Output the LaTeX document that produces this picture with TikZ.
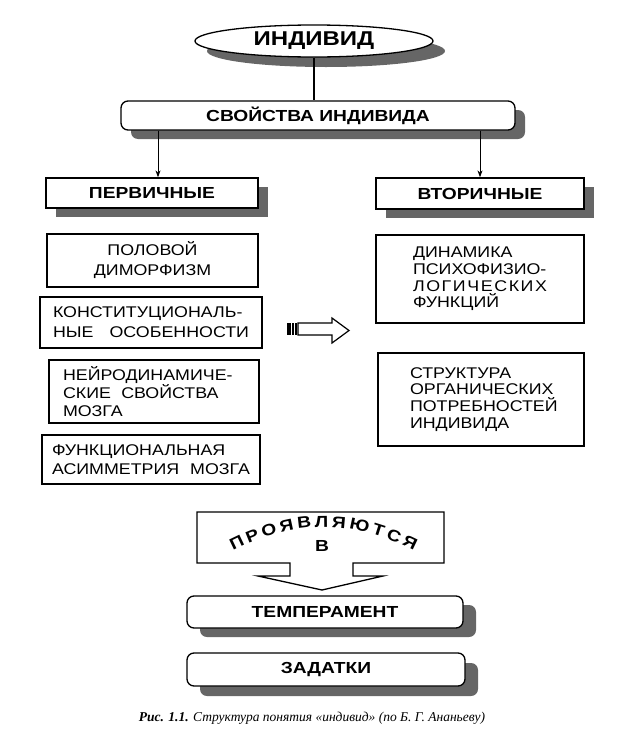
\documentclass[tikz,border=0pt]{standalone}
\usepackage{fontspec}
\setmainfont{Liberation Sans}
\newfontfamily\headfont[FakeStretch=1.2]{Liberation Sans}
\newfontfamily\bodyfont[FakeStretch=1.15]{Liberation Sans}
\newfontfamily\capfont{Liberation Serif}
\usetikzlibrary{shapes.geometric,shadows,arrows.meta,decorations.text}

\newcommand\arcfont{\headfont\bfseries\fontsize{16}{16}\selectfont}

\tikzset{
    box/.style = {draw, line width=1.3pt, fill=white, inner sep=0pt},
    shadowed/.style = {general shadow={shadow xshift=10pt, shadow yshift=-9pt, fill=black!60}},
    headtext/.style = {font=\headfont\bfseries\fontsize{16}{18}\selectfont},
    bodytext/.style = {font=\bodyfont\fontsize{15.5}{20}\selectfont},
    arr/.style = {-{Stealth[length=7pt, width=5pt]}, line width=1pt}
}

\begin{document}
\begin{tikzpicture}[x=1pt, y=-1pt]

        \useasboundingbox (0,0) rectangle (623,747);

        % Top: the individual and its properties.
        \node[box, ellipse, general shadow={shadow xshift=12pt, shadow yshift=-10pt, fill=black!60},
              minimum width=238pt, minimum height=32pt,
              font=\headfont\bfseries\fontsize{20}{22}\selectfont] (indiv) at (314,41) {ИНДИВИД};
        \node[box, rounded corners=7pt, shadowed, headtext,
              minimum width=394pt, minimum height=29pt] (props) at (318,115.5) {СВОЙСТВА ИНДИВИДА};
        \draw[line width=1.2pt] (indiv.south) -- (indiv.south |- props.north);

        % Two groups of properties.
        \node[box, shadowed, headtext, minimum width=212pt, minimum height=30pt] (prim) at (152,193) {ПЕРВИЧНЫЕ};
        \node[box, shadowed, headtext, minimum width=208pt, minimum height=31pt] (sec) at (480,193.5) {ВТОРИЧНЫЕ};
        \draw[arr] ([xshift=6pt]prim.north |- props.south) -- ([xshift=6pt]prim.north);
        \draw[arr] (sec.north |- props.south) -- (sec.north);

        % Primary properties.
        \begin{scope}[every node/.style = {box, bodytext}]
            \node[minimum width=211pt, minimum height=53pt, align=center] (sex) at (152.5,260.5)
                {ПОЛОВОЙ\\ДИМОРФИЗМ};
            \node[minimum width=222pt, minimum height=51pt, text width=196pt, align=left] (const) at (151,322.5)
                {КОНСТИТУЦИОНАЛЬ-\\НЫЕ\hfill ОСОБЕННОСТИ};
            \node[minimum width=210pt, minimum height=63pt, text width=182pt, align=left,
                  font=\bodyfont\fontsize{15.5}{18}\selectfont] (neuro) at (154,391.5)
                {НЕЙРОДИНАМИЧЕ-\\СКИЕ\ \ СВОЙСТВА\\МОЗГА};
            \node[minimum width=218pt, minimum height=49pt, text width=198pt, align=left,
                  font=\bodyfont\fontsize{15.5}{18.5}\selectfont] (asym) at (151,459.5)
                {ФУНКЦИОНАЛЬНАЯ\\АСИММЕТРИЯ\hfill МОЗГА};
        \end{scope}

        % Secondary properties.
        \begin{scope}[every node/.style = {box, font=\bodyfont\fontsize{15.5}{16.8}\selectfont, align=left}]
            \node[minimum width=208pt, minimum height=88pt, text width=134pt] (dyn) at (480,279)
                {ДИНАМИКА\\ПСИХОФИЗИО-\\Л\hfill О\hfill Г\hfill И\hfill Ч\hfill Е\hfill С\hfill К\hfill И\hfill Х\\ФУНКЦИЙ};
            \node[minimum width=206pt, minimum height=93pt, text width=142pt] (needs) at (481,399.5)
                {СТРУКТУРА\\ОРГАНИЧЕСКИХ\\ПОТРЕБНОСТЕЙ\\ИНДИВИДА};
        \end{scope}

        % Hollow arrow between the columns.
        \draw[line width=1.2pt, fill=white] (298,323) -- (332,323) -- (332,318) -- (349,330.5)
            -- (332,343) -- (332,335) -- (298,335) -- cycle;
        \fill (287,323) rectangle (290.5,335);
        \fill (292,323) rectangle (293.5,335);
        \fill (295,323) rectangle (296.5,335);

        % Block arrow with the arched words.
        \draw[line width=1.3pt, fill=white] (197,512) -- (444,512) -- (444,563) -- (353,563) -- (353,576)
            -- (383,576) -- (322,590) -- (258,576) -- (290,576) -- (290,563) -- (197,563) -- cycle;
        \path[decorate, decoration={text along path, text={|\arcfont|ПРОЯВЛЯЮТСЯ}, text align=fit to path}]
            (233,551) to[bend left=27] (414,551);
        \node[font=\arcfont] (in) at (322,546) {В};

        % Where the properties show up.
        \node[box, rounded corners=7pt, general shadow={shadow xshift=13pt, shadow yshift=-9pt, fill=black!60},
              headtext, minimum width=276pt, minimum height=32pt] (temper) at (325,612) {ТЕМПЕРАМЕНТ};
        \node[box, rounded corners=7pt, general shadow={shadow xshift=13pt, shadow yshift=-10pt, fill=black!60},
              headtext, minimum width=278pt, minimum height=33pt] (makings) at (326,669.5) {ЗАДАТКИ};

        % Caption.
        \node[font=\capfont\itshape\fontsize{13.5}{15}\selectfont] (caption) at (312,718)
            {\textbf{Рис. 1.1.} Структура понятия «индивид» (по Б. Г. Ананьеву)};
    \end{tikzpicture}
\end{document}
